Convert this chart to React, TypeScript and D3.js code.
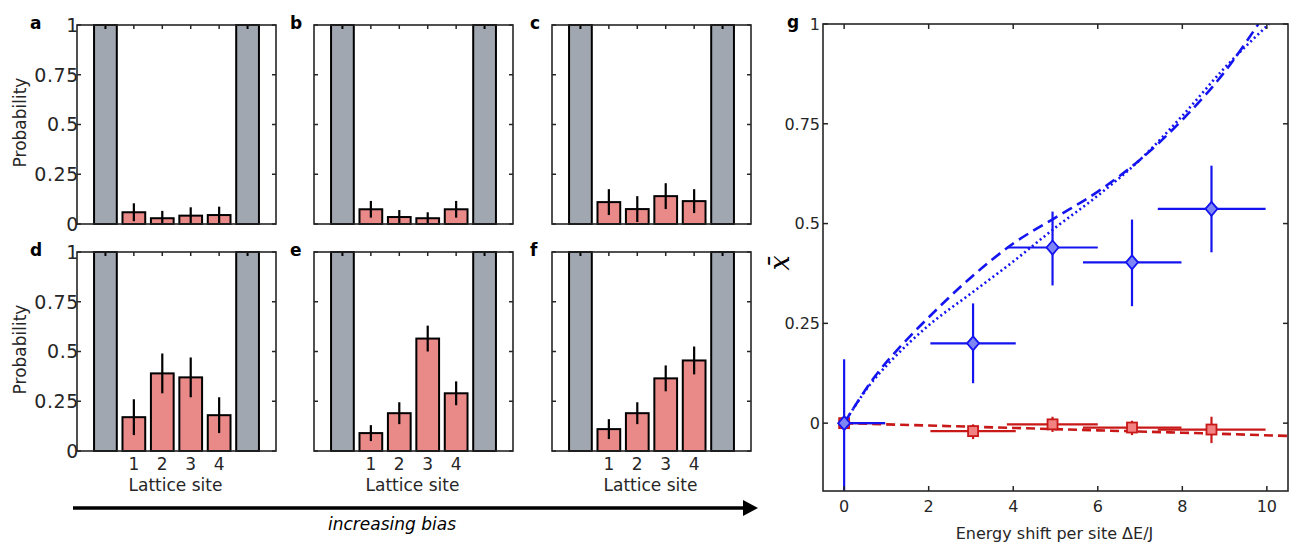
import React from "react";
import * as d3 from "d3";

// lattice-site occupation, panels a-f (sites 1..4), reservoirs at both ends
const panelLabels = ["a", "b", "c", "d", "e", "f"];
const sites = [1, 2, 3, 4];
const probA = [0.059, 0.029, 0.042, 0.045];
const errA = [0.045, 0.037, 0.042, 0.042];
const probB = [0.074, 0.035, 0.029, 0.074];
const errB = [0.042, 0.035, 0.03, 0.042];
const probC = [0.11, 0.075, 0.14, 0.115];
const errC = [0.065, 0.065, 0.065, 0.06];
const probD = [0.17, 0.39, 0.37, 0.18];
const errD = [0.09, 0.1, 0.1, 0.09];
const probE = [0.09, 0.19, 0.565, 0.29];
const errE = [0.04, 0.055, 0.065, 0.06];
const probF = [0.11, 0.19, 0.365, 0.455];
const errF = [0.05, 0.055, 0.065, 0.07];
const reservoirProb = 1;
const reservoirErr = 0.02;
const probTicks = [0, 0.25, 0.5, 0.75, 1];
const probTickLabels = ["0", "0.25", "0.5", "0.75", "1"];

// panel g: mean position vs energy shift
const shiftX = [0, 3.05, 4.93, 6.81, 8.69];
const shiftXLo = [0, 2.04, 3.85, 5.65, 7.42];
const shiftXHi = [0.97, 4.06, 6.0, 7.98, 9.97];
const blueY = [0, 0.2, 0.44, 0.403, 0.537];
const blueYLo = [-0.2, 0.1, 0.345, 0.293, 0.428];
const blueYHi = [0.16, 0.3, 0.53, 0.51, 0.645];
const redY = [0, -0.02, -0.003, -0.011, -0.016];
const redYLo = [-0.01, -0.04, -0.022, -0.03, -0.05];
const redYHi = [0.01, -0.003, 0.016, 0.006, 0.016];
const dashX = [0, 0.75, 1.4, 2, 3, 4, 5, 6, 7, 8, 9, 9.8];
const dashY = [0, 0.12, 0.2, 0.265, 0.365, 0.45, 0.515, 0.58, 0.66, 0.76, 0.88, 1.0];
const dotX = [0, 0.6, 1.1, 2, 3, 4, 5, 6, 7, 8, 9, 10.05];
const dotY = [0, 0.095, 0.155, 0.245, 0.325, 0.405, 0.49, 0.57, 0.66, 0.77, 0.89, 1.0];
const redThX = [0, 2, 4, 6, 8, 10.5];
const redThY = [0, -0.006, -0.012, -0.018, -0.024, -0.032];
const gXTicks = [0, 2, 4, 6, 8, 10];
const gYTicks = [0, 0.25, 0.5, 0.75, 1];
const gYTickLabels = ["0", "0.25", "0.5", "0.75", "1"];

const FONT = "'DejaVu Sans', Verdana, sans-serif";
const FRAME = "#262626";
const PINK = "#e98a89";
const GRAY = "#a1a7b1";
const BLUE = "#1414f0";
const BLUE_FILL = "#7d86f4";
const RED = "#c81818";
const RED_FILL = "#f28282";

const probs = [probA, probB, probC, probD, probE, probF];
const errs = [errA, errB, errC, errD, errE, errF];
const labelX = [30, 290, 530];

const BarPanel = ({ idx, x0, y0 }) => {
  const w = 199;
  const h = 199;
  const x = d3.scaleLinear().domain([-1, 6]).range([x0, x0 + w]);
  const y = d3.scaleLinear().domain([0, 1]).range([y0 + h, y0]);
  const bw = x(0.4) - x(0);
  const firstCol = idx % 3 === 0;
  const bottomRow = idx >= 3;
  const vals = probs[idx];
  const es = errs[idx];
  const reservoirs = [0, 5];
  return (
    <g>
      {reservoirs.map((p) => (
        <g key={"r" + p}>
          <rect x={x(p) - bw} y={y(reservoirProb)} width={bw * 2} height={y(0) - y(reservoirProb)}
            fill={GRAY} stroke="#000" strokeWidth={2} />
          <line x1={x(p)} x2={x(p)} y1={y(reservoirProb)} y2={y(reservoirProb - reservoirErr)} stroke="#000" strokeWidth={2} />
        </g>
      ))}
      {sites.map((s, i) => (
        <g key={s}>
          <rect x={x(s) - bw} y={y(vals[i])} width={bw * 2} height={y(0) - y(vals[i])}
            fill={PINK} stroke="#000" strokeWidth={2} />
          <line x1={x(s)} x2={x(s)} y1={y(Math.max(0, vals[i] - es[i]))} y2={y(vals[i] + es[i])}
            stroke="#000" strokeWidth={2.2} />
        </g>
      ))}
      <rect x={x0} y={y0} width={w} height={h} fill="none" stroke={FRAME} strokeWidth={1.6} />
      {probTicks.map((t) => (
        <g key={"yt" + t}>
          <line x1={x0} x2={x0 + 4} y1={y(t)} y2={y(t)} stroke={FRAME} strokeWidth={1.5} />
          <line x1={x0 + w} x2={x0 + w - 4} y1={y(t)} y2={y(t)} stroke={FRAME} strokeWidth={1.5} />
        </g>
      ))}
      {sites.map((s) => (
        <line key={"xt" + s} x1={x(s)} x2={x(s)} y1={y0} y2={y0 + 4} stroke={FRAME} strokeWidth={1.5} />
      ))}
      {firstCol &&
        probTicks.map((t, i) => (
          <text key={"yl" + t} x={x0 + 2} y={y(t)} dy="0.36em" textAnchor="end" fontSize={19} letterSpacing={0.6} fill="#262626">
            {probTickLabels[i]}
          </text>
        ))}
      {firstCol && (
        <text transform={`translate(${x0 - 51},${y0 + h / 2 - 2}) rotate(-90)`} textAnchor="middle" fontSize={17} fill="#262626">
          Probability
        </text>
      )}
      {bottomRow &&
        sites.map((s) => (
          <text key={"xl" + s} x={x(s)} y={y0 + h + 19} textAnchor="middle" fontSize={17} fill="#262626">
            {s}
          </text>
        ))}
      {bottomRow && (
        <text x={x0 + w / 2 - 1} y={y0 + h + 40} textAnchor="middle" fontSize={17} fill="#262626">
          Lattice site
        </text>
      )}
      <text x={labelX[idx % 3]} y={y0 + 4} fontSize={17} fontWeight="bold" fill="#000">
        {panelLabels[idx]}
      </text>
    </g>
  );
};

const ErrPoint = ({ x, y, i, ys, lo, hi, color, fill, shape }) => {
  const cx = x(shiftX[i]);
  const cy = y(ys[i]);
  return (
    <g>
      <line x1={x(shiftXLo[i])} x2={x(shiftXHi[i])} y1={cy} y2={cy} stroke={color} strokeWidth={2.2} />
      <line x1={cx} x2={cx} y1={y(lo[i])} y2={y(hi[i])} stroke={color} strokeWidth={2.2} />
      {shape === "diamond" ? (
        <path d={`M${cx},${cy - 7}L${cx + 6},${cy}L${cx},${cy + 7}L${cx - 6},${cy}Z`} fill={fill} stroke={color} strokeWidth={1.8} />
      ) : (
        <rect x={cx - 5} y={cy - 5} width={10} height={10} fill={fill} stroke={color} strokeWidth={1.8} />
      )}
    </g>
  );
};

const PanelG = () => {
  const x0 = 823, x1 = 1288, y0 = 24, y1 = 491;
  const x = d3.scaleLinear().domain([-0.5, 10.5]).range([x0, x1]);
  const y = d3.scaleLinear().domain([-0.17, 1]).range([y1, y0]);
  const line = d3.line().curve(d3.curveMonotoneX);
  const dashPath = line(dashX.map((v, i) => [x(v), y(dashY[i])]));
  const dotPath = line(dotX.map((v, i) => [x(v), y(dotY[i])]));
  const redPath = line(redThX.map((v, i) => [x(v), y(redThY[i])]));
  return (
    <g>
      <defs>
        <clipPath id="gclip">
          <rect x={x0} y={y0} width={x1 - x0} height={y1 - y0} />
        </clipPath>
      </defs>
      <g clipPath="url(#gclip)">
        <path d={redPath} fill="none" stroke={RED} strokeWidth={2.6} strokeDasharray="9,5" />
        {shiftX.map((_, i) => (
          <ErrPoint key={"r" + i} x={x} y={y} i={i} ys={redY} lo={redYLo} hi={redYHi} color={RED} fill={RED_FILL} shape="square" />
        ))}
        <path d={dashPath} fill="none" stroke={BLUE} strokeWidth={2.6} strokeDasharray="11,6" />
        <path d={dotPath} fill="none" stroke={BLUE} strokeWidth={2.6} strokeDasharray="2,3" />
        {shiftX.map((_, i) => (
          <ErrPoint key={"b" + i} x={x} y={y} i={i} ys={blueY} lo={blueYLo} hi={blueYHi} color={BLUE} fill={BLUE_FILL} shape="diamond" />
        ))}
      </g>
      <rect x={x0} y={y0} width={x1 - x0} height={y1 - y0} fill="none" stroke={FRAME} strokeWidth={1.6} />
      {gXTicks.map((t) => (
        <g key={"xt" + t}>
          <line x1={x(t)} x2={x(t)} y1={y1} y2={y1 - 5} stroke={FRAME} strokeWidth={1.5} />
          <line x1={x(t)} x2={x(t)} y1={y0} y2={y0 + 5} stroke={FRAME} strokeWidth={1.5} />
          <text x={x(t)} y={y1 + 21} textAnchor="middle" fontSize={16} fill="#262626">{t}</text>
        </g>
      ))}
      {gYTicks.map((t, i) => (
        <g key={"yt" + t}>
          <line x1={x0} x2={x0 + 5} y1={y(t)} y2={y(t)} stroke={FRAME} strokeWidth={1.5} />
          <line x1={x1} x2={x1 - 5} y1={y(t)} y2={y(t)} stroke={FRAME} strokeWidth={1.5} />
          <text x={x0 - 3} y={y(t)} dy="0.36em" textAnchor="end" fontSize={16} fill="#262626">{gYTickLabels[i]}</text>
        </g>
      ))}
      <text x={(x0 + x1) / 2 - 1} y={y1 + 48} textAnchor="middle" fontSize={16} fill="#262626">
        Energy shift per site ΔE/J
      </text>
      <text transform={`translate(${x0 - 34},${263}) rotate(-90)`} textAnchor="middle"
        fontSize={27} fontStyle="italic" fontFamily="'DejaVu Serif', serif" fill="#000">
        x̄
      </text>
      <text x={x0 - 36} y={y0 + 4} fontSize={17} fontWeight="bold" fill="#000">g</text>
    </g>
  );
};

const App = () => {
  const cols = [77, 314, 552];
  const rows = [25, 252];
  return (
    <svg width={1296} height={543} style={{ position: "absolute", left: 0, top: 0, fontFamily: FONT }}>
      <rect width={1296} height={543} fill="#fff" />
      {panelLabels.map((_, i) => (
        <BarPanel key={i} idx={i} x0={cols[i % 3]} y0={rows[Math.floor(i / 3)]} />
      ))}
      <line x1={73} x2={745} y1={508} y2={508} stroke="#000" strokeWidth={3.5} />
      <path d="M743,500L758,508L743,516Z" fill="#000" />
      <text x={392} y={530} textAnchor="middle" fontSize={17} fontStyle="italic" fill="#000">
        increasing bias
      </text>
      <PanelG />
    </svg>
  );
};

export default App;
